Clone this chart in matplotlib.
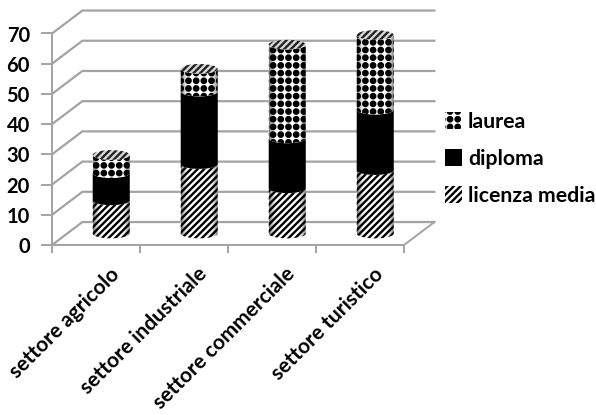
import numpy as np
import matplotlib
matplotlib.use("Agg")
import matplotlib.pyplot as plt
import matplotlib.hatch as mhatch
from matplotlib.path import Path
from matplotlib.patches import Polygon, Ellipse, Patch
from matplotlib.transforms import ScaledTranslation

categories = ["settore agricolo", "settore industriale", "settore commerciale", "settore turistico"]
licenza = [11, 23, 15, 21]
diploma = [9, 24, 16.5, 20]
laurea = [6, 7.5, 31, 24.7]
yticks = [0, 10, 20, 30, 40, 50, 60, 70]


class GridDots(mhatch.HatchPatternBase):
    """Round dots on a square grid, selected with the hatch character '@'."""
    def __init__(self, hatch, density):
        self.n = 13 if "@" in (hatch or "") else 0
        self.num_vertices = self.n ** 2 * len(Path.unit_circle().vertices)

    def set_vertices_and_codes(self, vertices, codes):
        c = Path.unit_circle()
        m = len(c.vertices)
        cell = 1.0 / self.n
        k = 0
        for r in range(self.n):
            for q in range(self.n):
                vertices[k:k + m] = c.vertices * cell * 0.28 + [(q + 0.5) * cell, (r + 0.5) * cell]
                codes[k:k + m] = c.codes
                k += m


mhatch._hatch_types.append(GridDots)

W, H = 596, 415
plt.rcParams["font.family"] = ["Lato", "DejaVu Sans"]
plt.rcParams["font.weight"] = "bold"
plt.rcParams["hatch.color"] = "black"
plt.rcParams["hatch.linewidth"] = 1.7
fig = plt.figure(figsize=(W / 100, H / 100), dpi=100)
ax = fig.add_axes([52 / W, 1 - 245 / H, 352 / W, 211.5 / H])
ax.set_xlim(-0.5, 3.5)
ax.set_ylim(0, 70)
ax.patch.set_visible(False)
GRID = "#a3a3a3"
DX, DY = 0.345, 7.6   # depth of the chart in data units
HW, RY = 0.21, 1.6    # cylinder half width, ellipse semi-minor


for v in yticks:
    ax.plot([-0.5, -0.5 + DX, 3.5 + DX], [v, v + DY, v + DY], color=GRID, lw=1.6,
            clip_on=False, zorder=1, solid_joinstyle="miter")
ax.plot([3.5, 3.5 + DX], [0, DY], color=GRID, lw=1.4, clip_on=False, zorder=1)


def arc(cx, y, sign=-1):
    t = np.linspace(0, np.pi, 40)
    return np.column_stack([cx - HW * np.cos(t), y + sign * RY * np.sin(t)])


def shade(patch, cx, y0, y1, z):
    u = np.linspace(-1, 1, 64)
    a = np.clip((np.abs(u) - 0.55) / 0.45, 0, 1) ** 2 * 0.55
    img = np.zeros((1, 64, 4))
    img[0, :, 3] = a
    im = ax.imshow(img, extent=(cx - HW, cx + HW, y0 - RY, y1 + RY), aspect="auto",
                   zorder=z, interpolation="bilinear")
    im.set_clip_path(patch)


series = [(licenza, "white", "/////"), (diploma, "black", None), (laurea, "white", "@")]
for i in range(len(categories)):
    cx = i + DX / 2
    base = DY / 2
    z = 3
    for vals, fc, hatch in series:
        top = base + vals[i]
        pts = np.vstack([arc(cx, base), arc(cx, top)[::-1]])
        p = Polygon(pts, closed=True, facecolor=fc, hatch=hatch, edgecolor="black" if hatch else fc,
                    lw=0, clip_on=False, zorder=z)
        ax.add_patch(p)
        shade(p, cx, base, top, z + 0.5)
        base = top
        z += 1
    cap = Ellipse((cx, base), 2 * HW, 2 * RY, facecolor="#d8d8d8", edgecolor="#222222", hatch="/////",
                  lw=0, clip_on=False, zorder=z)
    ax.add_patch(cap)

ax.set_xlim(-0.5, 3.5)
ax.set_ylim(0, 70)

for s in ("top", "right"):
    ax.spines[s].set_visible(False)
for s in ("left", "bottom"):
    ax.spines[s].set_color(GRID)
    ax.spines[s].set_linewidth(1.4)
ax.set_yticks(yticks)
ax.tick_params(axis="y", length=8, width=1.4, color=GRID, labelsize=14.5, pad=8)
ax.set_xticks(np.arange(-0.5, 3.6, 1), minor=True)
ax.tick_params(axis="x", which="minor", length=6, width=1.4, color=GRID)
ax.set_xticks(range(len(categories)))
ax.tick_params(axis="x", which="major", length=0, pad=0)
ax.set_xticklabels(categories, rotation=45, ha="right", rotation_mode="anchor", fontsize=15)
off = ScaledTranslation(13 / 100, -19 / 100, fig.dpi_scale_trans)
for lab in ax.get_xticklabels():
    lab.set_transform(lab.get_transform() + off)

handles = [Patch(facecolor="white", hatch="@", lw=0, label="laurea"),
           Patch(facecolor="black", lw=0, label="diploma"),
           Patch(facecolor="white", hatch="/////", lw=0, label="licenza media")]
fig.legend(handles=handles, loc="center left", bbox_to_anchor=(445 / W, 1 - 159 / H), frameon=False,
           fontsize=15.3, handlelength=0.8, handleheight=0.8, handletextpad=0.28, labelspacing=0.8,
           borderpad=0, borderaxespad=0)

fig.savefig("out.png", dpi=100)
